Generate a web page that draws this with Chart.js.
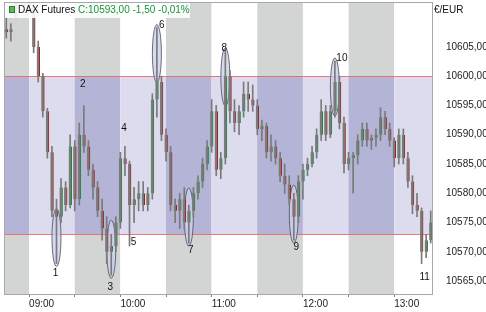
<!DOCTYPE html>
<html>
<head>
<meta charset="utf-8">
<script src="https://cdn.jsdelivr.net/npm/chart.js@4.4.1/dist/chart.umd.min.js"></script>
<style>
  html, body { margin: 0; padding: 0; background: #fff; }
  canvas { display: block; }
</style>
</head>
<body>
<canvas id="myChart" width="486" height="312"></canvas>
<script>
// 3-minute candles, DAX futures
const times = [
  '08:45','08:48','08:51','08:54','08:57','09:00','09:03','09:06','09:09','09:12',
  '09:15','09:18','09:21','09:24','09:27','09:30','09:33','09:36','09:39','09:42',
  '09:45','09:48','09:51','09:54','09:57','10:00','10:03','10:06','10:09','10:12',
  '10:15','10:18','10:21','10:24','10:27','10:30','10:33','10:36','10:39','10:42',
  '10:45','10:48','10:51','10:54','10:57','11:00','11:03','11:06','11:09','11:12',
  '11:15','11:18','11:21','11:24','11:27','11:30','11:33','11:36','11:39','11:42',
  '11:45','11:48','11:51','11:54','11:57','12:00','12:03','12:06','12:09','12:12',
  '12:15','12:18','12:21','12:24','12:27','12:30','12:33','12:36','12:39','12:42',
  '12:45','12:48','12:51','12:54','12:57','13:00','13:03','13:06','13:09','13:12',
  '13:15','13:18','13:21','13:24'
];
const opens = [
  10608, 10607.5, 10610, 10613, 10614, 10613, 10612, 10605, 10600, 10594,
  10587, 10577, 10576, 10581, 10578, 10588, 10579, 10590, 10588, 10584,
  10581, 10577, 10574, 10570, 10571, 10575, 10586, 10585, 10578, 10579,
  10580, 10578, 10580, 10596, 10599, 10590, 10587, 10578, 10577, 10579,
  10575, 10577, 10580, 10582, 10585, 10588, 10594, 10584, 10586, 10600,
  10594, 10592, 10594, 10597, 10596, 10595, 10591, 10591.5, 10587, 10588,
  10586, 10583, 10581.5, 10579, 10576, 10582, 10584, 10585, 10587, 10590,
  10594, 10590, 10594, 10599, 10592, 10585, 10586, 10586.5, 10589, 10591,
  10589, 10589.5, 10590, 10593, 10591, 10589, 10586, 10590, 10586, 10582,
  10578, 10577, 10570, 10572
];
const highs = [
  10610, 10609, 10614, 10616, 10615.5, 10614, 10612.5, 10606, 10600.5, 10594.5,
  10588, 10579, 10582.5, 10582, 10590, 10589, 10592, 10595, 10589, 10585,
  10582, 10579, 10576, 10573, 10576, 10587, 10588, 10585.5, 10581, 10582,
  10582, 10581, 10597, 10608.3, 10600, 10591, 10588, 10579, 10580, 10581,
  10578, 10581, 10583, 10586, 10589, 10596, 10595, 10587, 10604.3, 10601,
  10596, 10595, 10599, 10599, 10598.5, 10596, 10592.5, 10592, 10590, 10589,
  10587, 10585, 10583, 10580, 10583, 10585, 10586, 10588, 10591, 10596,
  10595, 10595, 10602.6, 10600, 10593, 10587, 10587, 10590, 10592, 10592,
  10590, 10591, 10594.6, 10594, 10592, 10589.5, 10591, 10591, 10587, 10583,
  10580, 10577.5, 10573, 10577
];
const lows = [
  10606.5, 10606, 10610.5, 10612, 10612, 10611, 10604, 10599, 10593, 10586,
  10576, 10568, 10575, 10577, 10577.5, 10577, 10578, 10587, 10583, 10579,
  10576, 10572, 10568, 10566, 10570, 10574, 10583, 10571, 10575, 10577,
  10577, 10577, 10579, 10593, 10589, 10585.5, 10577, 10575, 10574, 10574,
  10571.5, 10576, 10579, 10581, 10584, 10587, 10583, 10582.5, 10585, 10592,
  10590.5, 10590, 10593, 10594, 10594, 10590, 10589, 10586, 10585.5, 10585,
  10582, 10580, 10578, 10572, 10575, 10579, 10583, 10584.5, 10586, 10589,
  10589, 10589.5, 10593, 10591, 10583.5, 10584, 10580, 10585, 10588, 10588,
  10587.5, 10588, 10589, 10590, 10588, 10584.5, 10585, 10585, 10581, 10576.5,
  10576, 10568, 10569, 10571.5
];
const closes = [
  10607.5, 10608, 10613, 10614, 10613, 10612, 10605, 10600, 10594, 10587,
  10577, 10576, 10581, 10578, 10588, 10579, 10590, 10588, 10584, 10581,
  10577, 10574, 10570, 10571, 10575, 10586, 10585, 10578, 10579, 10580,
  10578, 10580, 10596, 10599, 10590, 10587, 10578, 10577, 10579, 10575,
  10577, 10580, 10582, 10585, 10588, 10594, 10584, 10586, 10600, 10594,
  10592, 10594, 10597, 10596, 10595, 10591, 10591.5, 10587, 10588, 10586,
  10583, 10581.5, 10579, 10576, 10582, 10584, 10585, 10587, 10590, 10594,
  10590, 10594, 10599, 10592, 10585, 10586, 10586.5, 10589, 10591, 10589,
  10589.5, 10590, 10593, 10591, 10589, 10586, 10590, 10586, 10582, 10578,
  10577, 10570, 10572, 10575
];
const yTicks = [10565, 10570, 10575, 10580, 10585, 10590, 10595, 10600, 10605];
const rangeTop = 10600;
const rangeBottom = 10573;

const markerLabels = ['1', '2', '3', '4', '5', '6', '7', '8', '9', '10', '11'];
const markerTimes = ['09:18', '09:36', '09:54', '10:03', '10:06', '10:24', '10:45', '11:09', '11:54', '12:21', '13:18'];
const markerSides = ['low', 'high', 'low', 'high', 'low', 'high', 'low', 'high', 'low', 'high', 'low'];
const markerRinged = [true, false, true, false, false, true, true, true, true, true, false];

// label offsets (px) from the candle's extreme
const labelShift = [[-1, 10], [-1, -21], [-1, 12], [-1, -18], [4, -4], [5, -2], [2, 7], [-1, -3], [2.5, 7], [7, -3], [3, 14]];

const fmt = v => v.toFixed(2).replace('.', ',');

const overlay = {
  id: 'overlay',
  beforeDatasetsDraw(chart) {
    const {ctx, chartArea: a, scales: {x, y}} = chart;
    const edges = [a.left];
    times.forEach((t, i) => { if (/:(00|30)$/.test(t)) edges.push(x.getPixelForValue(i)); });
    edges.push(a.right);
    const yTop = y.getPixelForValue(rangeTop);
    const yBot = y.getPixelForValue(rangeBottom);
    ctx.save();
    for (let k = 0; k < edges.length - 1; k++) {
      const gray = k % 2 === 0;
      const x0 = edges[k], w = edges[k + 1] - x0;
      ctx.fillStyle = gray ? '#d3d5d5' : '#ffffff';
      ctx.fillRect(x0, a.top, w, a.bottom - a.top);
      ctx.fillStyle = gray ? '#b4b5d6' : '#dcdcee';
      ctx.fillRect(x0, yTop, w, yBot - yTop);
    }
    ctx.strokeStyle = 'rgba(232,100,100,0.85)';
    ctx.lineWidth = 1;
    [yTop, yBot].forEach(py => {
      ctx.beginPath();
      ctx.moveTo(a.left, Math.round(py) + 0.5);
      ctx.lineTo(a.right, Math.round(py) + 0.5);
      ctx.stroke();
    });
    markerTimes.forEach((t, m) => {
      if (!markerRinged[m]) return;
      const i = times.indexOf(t);
      const px = x.getPixelForValue(i);
      const low = markerSides[m] === 'low';
      const py = y.getPixelForValue(low ? lows[i] : highs[i]);
      const cy = low ? py + 3 - 29 : py - 3 + 29;
      ctx.beginPath();
      ctx.ellipse(px, cy, 4.5, 29, 0, 0, Math.PI * 2);
      ctx.fillStyle = 'rgba(205,208,235,0.8)';
      ctx.fill();
      ctx.strokeStyle = '#4a4a5a';
      ctx.lineWidth = 0.8;
      ctx.stroke();
    });
    ctx.restore();
  },
  afterDatasetsDraw(chart) {
    const {ctx, chartArea: a, scales: {x, y}} = chart;
    ctx.save();
    ctx.strokeStyle = '#a8a8a8';
    ctx.lineWidth = 1;
    ctx.strokeRect(a.left + 0.5, a.top - 0.5, a.right - a.left - 1, a.bottom - a.top + 1);
    ctx.font = '10px "Liberation Sans", Arial, sans-serif';
    ctx.fillStyle = '#111';
    ctx.textAlign = 'center';
    ctx.textBaseline = 'middle';
    markerTimes.forEach((t, m) => {
      const i = times.indexOf(t);
      const low = markerSides[m] === 'low';
      const px = x.getPixelForValue(i) + labelShift[m][0];
      const py = y.getPixelForValue(low ? lows[i] : highs[i]) + labelShift[m][1];
      ctx.fillText(markerLabels[m], px, py);
    });
    ctx.restore();
  },
  afterDraw(chart) {
    const {ctx, chartArea: a} = chart;
    ctx.save();
    ctx.fillStyle = 'rgba(255,255,255,0.88)';
    ctx.fillRect(5, 3, 185, 15);
    ctx.fillStyle = '#5cb85c';
    ctx.fillRect(9, 6, 6, 7);
    ctx.strokeStyle = '#2f7d2f';
    ctx.strokeRect(9.5, 6.5, 5, 6);
    ctx.font = '10px "Liberation Sans", Arial, sans-serif';
    ctx.textBaseline = 'middle';
    ctx.textAlign = 'left';
    ctx.fillStyle = '#111';
    const name = 'DAX Futures ';
    ctx.fillText(name, 18, 10.5);
    ctx.fillStyle = '#17973a';
    ctx.fillText('C:10593,00 -1,50 -0,01%', 18 + ctx.measureText(name).width, 10.5);
    ctx.fillStyle = '#111';
    ctx.fillText('€/EUR', a.right + 1, 10);
    ctx.restore();
  }
};

const ctx = document.getElementById('myChart').getContext('2d');
const myChart = new Chart(ctx, {
  type: 'bar',
  data: {
    labels: times,
    datasets: [{
      label: 'wick',
      data: times.map((t, i) => [lows[i], highs[i]]),
      backgroundColor: '#7a7a7a',
      barThickness: 1,
      grouped: false,
      clip: 0
    }, {
      label: 'body',
      data: times.map((t, i) => [opens[i], closes[i]]),
      backgroundColor: '#7c7c7c',
      borderColor: times.map((t, i) => closes[i] > opens[i] ? '#1f8a3a' : '#a81a1a'),
      borderWidth: { left: 0, right: 1, top: 0, bottom: 0 },
      borderSkipped: false,
      barThickness: 3,
      grouped: false,
      clip: 0
    }]
  },
  options: {
    responsive: false,
    animation: false,
    layout: { padding: { left: 4, top: 3, right: 0, bottom: 0 } },
    plugins: { legend: { display: false }, tooltip: { enabled: false } },
    scales: {
      x: {
        offset: true,
        grid: { display: true, drawOnChartArea: false, offset: false, tickLength: 3, color: '#808080' },
        border: { display: false },
        afterBuildTicks: s => { s.ticks = s.ticks.filter(t => /:(00|30)$/.test(times[t.value])); },
        afterFit: s => { s.height = 18; s.paddingLeft = 0; s.paddingRight = 0; },
        ticks: {
          autoSkip: false,
          maxRotation: 0,
          align: 'start',
          padding: 1,
          color: '#222',
          font: { family: '"Liberation Sans", Arial, sans-serif', size: 10 },
          callback: v => times[v].endsWith(':00') ? times[v] : ''
        }
      },
      y: {
        position: 'right',
        min: 10562.8,
        max: 10612.5,
        grid: { display: false },
        border: { display: false },
        afterBuildTicks: s => { s.ticks = yTicks.map(v => ({ value: v })); },
        afterFit: s => { s.width = 53; s.paddingTop = 0; s.paddingBottom = 0; },
        ticks: {
          padding: 5,
          color: '#222',
          font: { family: '"Liberation Sans", Arial, sans-serif', size: 10 },
          callback: v => fmt(v)
        }
      }
    }
  },
  plugins: [overlay]
});
</script>
</body>
</html>
